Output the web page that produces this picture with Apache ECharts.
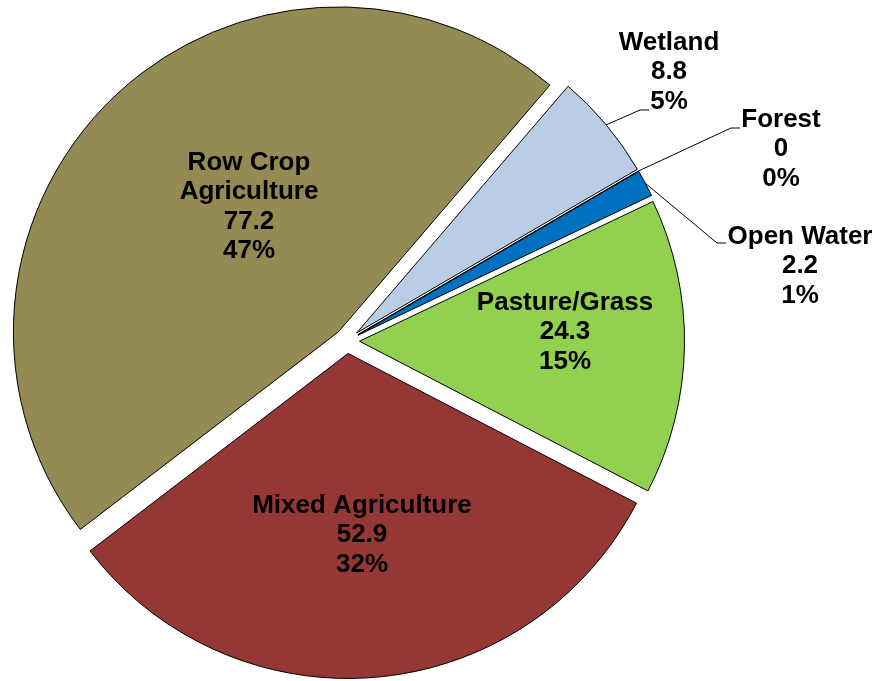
<!DOCTYPE html>
<html>
<head>
<meta charset="utf-8">
<title>Land Use</title>
<script src="https://cdn.jsdelivr.net/npm/echarts@6/dist/echarts.min.js"></script>
<style>
  html, body { margin: 0; padding: 0; background: #ffffff; }
  #chart { width: 875px; height: 681px; }
</style>
</head>
<body>
<div id="chart"></div>
<script>
// Land use categories, clockwise from the first slice
const categories = ['Wetland', 'Forest', 'Open Water', 'Pasture/Grass', 'Mixed Agriculture', 'Row Crop\nAgriculture'];
const acres = [8.8, 0, 2.2, 24.3, 52.9, 77.2];
const sliceColors = ['#B9CDE5', '#00B050', '#0070C0', '#92D050', '#953735', '#948A54'];
const outsideLabels = ['Wetland', 'Forest', 'Open Water'];

// Pie geometry
const pieCenter = [347, 341];
const pieRadius = 325;
const explodeDistance = 12.5;
const firstSliceBearing = 40.6; // degrees clockwise from 12 o'clock

// Label placement (label block centre, leader line end point)
const labelSpots = {
  'Row Crop\nAgriculture': { x: 249, y: 207 },
  'Mixed Agriculture': { x: 362, y: 535 },
  'Pasture/Grass': { x: 565, y: 332 },
  'Wetland': { x: 669, y: 72, end: [649, 110] },
  'Forest': { x: 781, y: 149, end: [740, 128] },
  'Open Water': { x: 800, y: 266, end: [726, 243] }
};

const total = acres.reduce((a, b) => a + b, 0);
const chart = echarts.init(document.getElementById('chart'), null, { renderer: 'canvas' });

// One series per slice so every slice can be pulled out along its own mid-angle
let cumulative = 0;
const series = categories.map((name, i) => {
  const midDeg = firstSliceBearing + 360 * (cumulative + acres[i] / 2) / total;
  cumulative += acres[i];
  const mid = midDeg * Math.PI / 180;
  return {
    type: 'pie',
    silent: true,
    animation: false,
    avoidLabelOverlap: false,
    center: [pieCenter[0] + explodeDistance * Math.sin(mid), pieCenter[1] - explodeDistance * Math.cos(mid)],
    radius: pieRadius,
    startAngle: 90 - firstSliceBearing,
    clockwise: true,
    percentPrecision: 0,
    label: {
      color: '#000',
      fontFamily: '"Liberation Sans", Arial, sans-serif',
      fontWeight: 'bold',
      fontSize: 26,
      lineHeight: 29.5,
      align: 'center',
      formatter: '{b}\n{c}\n{d}%'
    },
    labelLine: {
      lineStyle: { color: '#000', width: 1 }
    },
    labelLayout: function (params) {
      const spot = labelSpots[categories[params.dataIndex]];
      const out = { x: spot.x, y: spot.y, align: 'center', verticalAlign: 'middle' };
      if (spot.end && params.labelLinePoints) {
        const anchor = params.labelLinePoints[0];
        out.labelLinePoints = [anchor, [spot.end[0] - 9, spot.end[1]], spot.end];
      }
      return out;
    },
    data: categories.map((n, j) => {
      const own = j === i;
      const outside = outsideLabels.indexOf(n) >= 0;
      return {
        name: n,
        value: acres[j],
        itemStyle: own
          ? { color: sliceColors[j], borderColor: '#000', borderWidth: 1 }
          : { color: 'rgba(0,0,0,0)', borderWidth: 0 },
        label: { show: own, position: outside ? 'outside' : 'inside' },
        labelLine: { show: own && outside }
      };
    })
  };
});

chart.setOption({
  backgroundColor: '#ffffff',
  series: series
});
</script>
</body>
</html>
